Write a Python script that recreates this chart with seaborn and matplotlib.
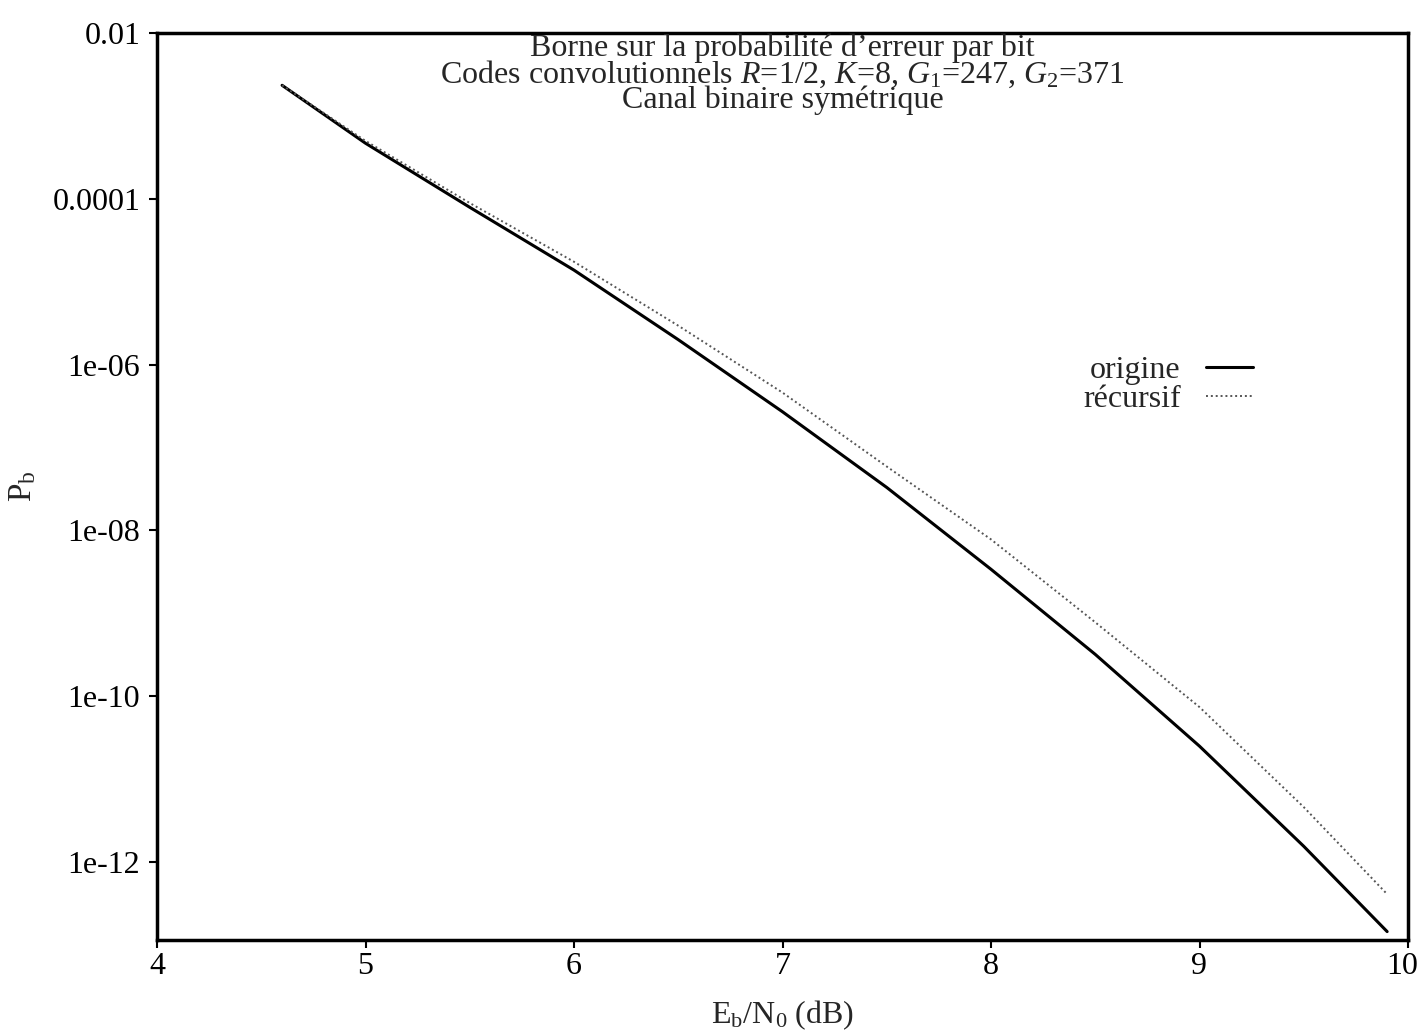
import numpy as np
import pandas as pd
import matplotlib
matplotlib.use("Agg")
import matplotlib.pyplot as plt
import matplotlib.transforms as mtransforms
import seaborn as sns
from matplotlib.ticker import FixedLocator, FixedFormatter, NullLocator

# ---- data ----
ebn0 = [4.6, 5.0, 5.5, 6.0, 6.5, 7.0, 7.5, 8.0, 8.5, 9.0, 9.5, 9.9]
pb_origine = [2.34e-3, 4.68e-4, 7.9e-5, 1.38e-5, 2.0e-6, 2.7e-7, 3.3e-8,
              3.4e-9, 3.2e-10, 2.5e-11, 1.55e-12, 1.45e-13]
pb_recursif = [2.34e-3, 5.0e-4, 8.9e-5, 1.74e-5, 2.95e-6, 4.6e-7, 5.9e-8,
               7.8e-9, 7.8e-10, 7.4e-11, 4.6e-12, 4.1e-13]
series_names = ["origine", "récursif"]
xticks = [4, 5, 6, 7, 8, 9, 10]
yticks = [1e-2, 1e-4, 1e-6, 1e-8, 1e-10, 1e-12]
ytick_labels = ["0.01", "0.0001", "1e-06", "1e-08", "1e-10", "1e-12"]
title_lines = [
    "Borne sur la probabilité d\u2019erreur par bit",
    r"Codes convolutionnels $R$=1/2, $K$=8, $G_{\mathrm{1}}$=247, $G_{\mathrm{2}}$=371",
    "Canal binaire symétrique",
]

sns.set_theme(style="white")
plt.rcParams["font.family"] = ["Liberation Serif", "DejaVu Serif"]
plt.rcParams["mathtext.fontset"] = "custom"
plt.rcParams["mathtext.rm"] = "Liberation Serif"
plt.rcParams["mathtext.it"] = "Liberation Serif:italic"
plt.rcParams["mathtext.bf"] = "Liberation Serif:bold"

df = pd.concat([
    pd.DataFrame({"x": ebn0, "y": pb_origine, "s": series_names[0]}),
    pd.DataFrame({"x": ebn0, "y": pb_recursif, "s": series_names[1]}),
])

fig = plt.figure(figsize=(14.2, 10.33), dpi=100)
ax = fig.add_axes([157 / 1420, 1 - 940 / 1033, (1408 - 157) / 1420, (940 - 33) / 1033])

sns.lineplot(data=df[df.s == series_names[0]], x="x", y="y", ax=ax,
             color="black", linewidth=2.2, label=series_names[0], estimator=None)
sns.lineplot(data=df[df.s == series_names[1]], x="x", y="y", ax=ax,
             color="#555555", linewidth=1.4, linestyle=(0, (1, 1.5)),
             label=series_names[1], estimator=None)

ax.set_yscale("log")
ax.set_xlim(4, 10)
ax.set_ylim(10 ** -12.94, 1e-2)
ax.xaxis.set_major_locator(FixedLocator(xticks))
ax.set_xticklabels([str(t) for t in xticks])
ax.yaxis.set_major_locator(FixedLocator(yticks))
ax.yaxis.set_major_formatter(FixedFormatter(ytick_labels))
ax.yaxis.set_minor_locator(NullLocator())

for sp in ax.spines.values():
    sp.set_linewidth(2.5)
    sp.set_color("black")
ax.tick_params(axis="both", which="major", direction="out", length=6, width=1.5,
               labelsize=23, colors="black", pad=3, bottom=True, left=True)
ax.tick_params(axis="y", pad=6)

# nudge the last x tick label ("10") slightly left so it stays inside the figure
last = ax.get_xticklabels()[-1]
last.set_transform(last.get_transform() +
                   mtransforms.ScaledTranslation(-6 / 100, 0, fig.dpi_scale_trans))

ax.set_xlabel(r"$\mathrm{E_b/N_0}$ (dB)", fontsize=23, labelpad=12)
ax.set_ylabel(r"$\mathrm{P_b}$", fontsize=24, labelpad=10)

ax.text(0.5, 0.999, "\n".join(title_lines), transform=ax.transAxes,
        ha="center", va="top", fontsize=23, linespacing=0.8)

leg = ax.legend(loc="center", bbox_to_anchor=(0.808, 0.612), frameon=False,
                markerfirst=False, fontsize=23, handlelength=1.45,
                handletextpad=0.8, labelspacing=0.0)

fig.savefig("out.png", dpi=100)
